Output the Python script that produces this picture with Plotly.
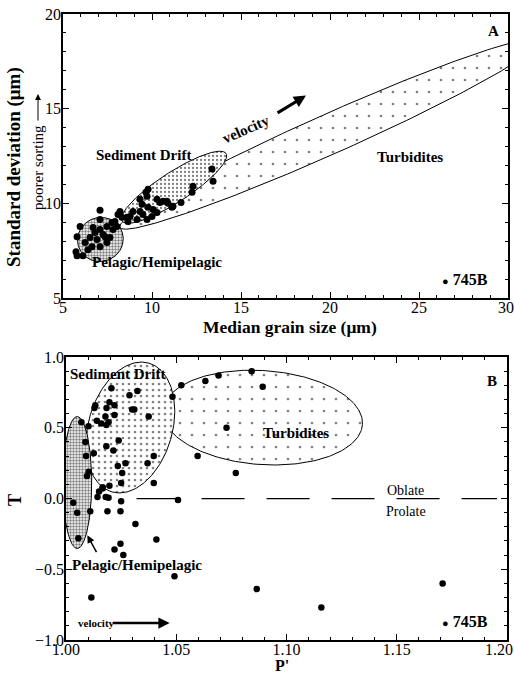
import numpy as np
import plotly.graph_objects as go

# ---------------- data ----------------
# Panel A: median grain size (um) vs standard deviation (um)
grain_size = [13.37, 13.43, 12.30, 12.25, 11.63, 11.12, 9.66, 9.72, 10.28, 10.62,
              10.84, 9.33, 9.44, 9.78, 10.06, 10.28, 10.00, 9.49, 9.33, 8.93,
              9.16, 9.72, 8.76, 8.60, 8.09, 8.31, 8.65, 7.08, 5.96, 5.79,
              5.73, 5.79, 6.12, 6.24, 6.52, 6.80, 7.08, 7.25, 6.91, 6.63,
              7.47, 7.75, 7.92, 7.08, 6.40, 7.47, 7.81, 8.03, 7.08, 9.78,
              10.45, 10.90, 11.18, 7.36, 6.69, 7.64, 8.20]
std_dev = [11.81, 11.17, 10.90, 10.59, 10.05, 9.79, 10.59, 10.37, 10.21, 10.11,
           10.11, 10.21, 9.95, 9.79, 9.68, 9.52, 9.31, 9.41, 9.57, 9.57,
           9.15, 9.15, 9.31, 9.26, 9.41, 9.26, 9.04, 9.63, 8.78, 8.24,
           7.45, 7.23, 7.23, 7.93, 8.19, 8.46, 8.62, 8.35, 8.09, 7.71,
           8.78, 8.99, 9.04, 7.71, 7.55, 7.93, 8.62, 8.78, 9.15, 10.74,
           10.05, 10.00, 9.84, 8.24, 8.72, 8.19, 9.57]

# Panel B: P' vs T
p_prime = [1.0523, 1.0632, 1.0692, 1.0842, 1.0892, 1.0483, 1.0206, 1.0288, 1.0324, 1.0133,
           1.0129, 1.0197, 1.0220, 1.0184, 1.0310, 1.0220, 1.0179, 1.0375, 1.0160, 1.0193,
           1.0183, 1.0102, 1.0070, 1.0728, 1.0088, 1.0239, 1.0183, 1.0215, 1.0126, 1.0398,
           1.0597, 1.0091, 1.0370, 1.0270, 1.0235, 1.0255, 1.0103, 1.0095, 1.0770, 1.0250,
           1.0398, 1.0197, 1.0166, 1.0143, 1.0193, 1.0150, 1.0166, 1.0508, 1.0250, 1.0033,
           1.0051, 1.0110, 1.0188, 1.0247, 1.0315, 1.0056, 1.0410, 1.0247, 1.0220, 1.0260,
           1.0492, 1.0865, 1.1708, 1.0115, 1.1158, 1.0180, 1.0300, 1.0140]
t_shape = [0.80, 0.83, 0.87, 0.90, 0.79, 0.72, 0.78, 0.73, 0.76, 0.66,
           0.64, 0.68, 0.66, 0.64, 0.63, 0.59, 0.58, 0.58, 0.53, 0.54,
           0.52, 0.51, 0.54, 0.50, 0.40, 0.41, 0.37, 0.34, 0.32, 0.30,
           0.30, 0.30, 0.25, 0.25, 0.23, 0.18, 0.19, 0.16, 0.18, 0.11,
           0.11, 0.09, 0.08, 0.01, 0.005, 0.05, 0.07, -0.01, -0.02, -0.03,
           -0.10, -0.09, -0.09, -0.09, -0.18, -0.28, -0.29, -0.32, -0.36, -0.40,
           -0.55, -0.64, -0.60, -0.70, -0.77, 0.01, 0.63, 0.55]

# Tick values and labels
xa_ticks = [5, 10, 15, 20, 25, 30]
xa_labels = ["5", "10", "15", "20", "25", "30"]
ya_ticks = [5, 10, 15, 20]
xb_ticks = [1.0, 1.05, 1.1, 1.15, 1.2]
xb_labels = ["1.00", "1.05", "1.10", "1.15", "1.20"]
yb_ticks = [-1.0, -0.5, 0.0, 0.5, 1.0]

# Field outlines: centre x, centre y, semi-axes (screen px), rotation (deg)
turb_a = (20.0, 13.67, 230, 20, 24)
drift_a = (11.24, 10.85, 62, 15, 33)
pelag_a = (7.1, 8.09, 23, 22, 20)
turb_b = (1.0892, 0.572, 100, 47, -4)
drift_b = (1.0292, 0.502, 67, 42, 74)
pelag_b = (1.0051, 0.113, 66, 14.5, 90)

oblate_line_x = [1.032, 1.1955]
oblate_line_y = [0.0, 0.0]

# ---------------- layout constants ----------------
W, H = 514, 675
ML, MR, MT, MB = 63, 6, 14, 35
PW, PH = W - ML - MR, H - MT - MB
dom_xa = [0.0, 1.0]
dom_ya = [0.5463, 1.0]
dom_xb = [0.0067, 0.9978]
dom_yb = [0.0, 0.452]
rx_a, ry_a = [5, 30], [5, 20]
rx_b, ry_b = [1.0, 1.2], [-1.0, 1.0]

sx_a = PW * (dom_xa[1] - dom_xa[0]) / (rx_a[1] - rx_a[0])
sy_a = PH * (dom_ya[1] - dom_ya[0]) / (ry_a[1] - ry_a[0])
sx_b = PW * (dom_xb[1] - dom_xb[0]) / (rx_b[1] - rx_b[0])
sy_b = PH * (dom_yb[1] - dom_yb[0]) / (ry_b[1] - ry_b[0])


def ellipse(p, sx, sy, n=240):
    cx, cy, a, b, ang = p
    t = np.linspace(0, 2 * np.pi, n)
    th = np.deg2rad(ang)
    u, v = a * np.cos(t), b * np.sin(t)
    dx = u * np.cos(th) - v * np.sin(th)
    dy = u * np.sin(th) + v * np.cos(th)
    return cx + dx / sx, cy + dy / sy


def pad_last(labels, n):
    # keep the last label inside the page, as in the original
    return labels[:-1] + [labels[-1] + "\u00a0" * n]


SERIF = "Liberation Serif"
fig = go.Figure()


def add_field(p, sx, sy, xa, ya, shape, size, sol, fg="black", bg="white"):
    ex, ey = ellipse(p, sx, sy)
    fig.add_trace(go.Scatter(
        x=ex, y=ey, mode="lines", xaxis=xa, yaxis=ya,
        line=dict(color="black", width=1), fill="toself", fillcolor=bg,
        fillpattern=dict(shape=shape, size=size, solidity=sol,
                         fgcolor=fg, bgcolor=bg),
        hoverinfo="skip", showlegend=False))


add_field(turb_a, sx_a, sy_a, "x", "y", ".", 12, 0.04)
add_field(drift_a, sx_a, sy_a, "x", "y", ".", 4, 0.25)
add_field(pelag_a, sx_a, sy_a, "x", "y", ".", 3, 0.5)
add_field(turb_b, sx_b, sy_b, "x2", "y2", ".", 12, 0.04)
add_field(drift_b, sx_b, sy_b, "x2", "y2", ".", 6, 0.15)
add_field(pelag_b, sx_b, sy_b, "x2", "y2", ".", 3, 0.5)

fig.add_trace(go.Scatter(x=grain_size, y=std_dev, mode="markers", xaxis="x", yaxis="y",
                         marker=dict(color="black", size=7), showlegend=False))
fig.add_trace(go.Scatter(x=oblate_line_x, y=oblate_line_y, mode="lines", xaxis="x2", yaxis="y2",
                         line=dict(color="black", width=1.2, dash="43px,22px"), showlegend=False))
fig.add_trace(go.Scatter(x=p_prime, y=t_shape, mode="markers", xaxis="x2", yaxis="y2",
                         marker=dict(color="black", size=6.5), showlegend=False))

axis_common = dict(showline=True, linecolor="black", linewidth=1.5, mirror="allticks",
                   ticks="inside", ticklen=6, tickcolor="black", showgrid=False, zeroline=False,
                   automargin=False, ticklabeloverflow="allow",
                   tickfont=dict(family=SERIF, size=16, color="black"))
minor_common = dict(ticks="inside", ticklen=3, tickcolor="black")

fig.update_layout(
    width=W, height=H, margin=dict(l=ML, r=MR, t=MT, b=MB),
    plot_bgcolor="white", paper_bgcolor="white", showlegend=False,
    xaxis=dict(domain=dom_xa, range=rx_a, anchor="y", tickvals=xa_ticks,
               ticktext=pad_last(xa_labels, 1),
               ticklabelstandoff=-6, minor=dict(dtick=1, **minor_common), **axis_common),
    yaxis=dict(domain=dom_ya, range=ry_a, anchor="x", tickvals=ya_ticks,
               ticklabelstandoff=-3, minor=dict(dtick=1, **minor_common), **axis_common),
    xaxis2=dict(domain=dom_xb, range=rx_b, anchor="y2", tickvals=xb_ticks,
                ticktext=pad_last(xb_labels, 4), ticklabelstandoff=-6,
                minor=dict(dtick=0.01, **minor_common), **axis_common),
    yaxis2=dict(domain=dom_yb, range=ry_b, anchor="x2", tickvals=yb_ticks,
                tickformat=".1f", ticklabelstandoff=-3,
                minor=dict(dtick=0.1, **minor_common), **axis_common),
)


def px2paper(px, py):
    return (px - ML) / PW, 1 - (py - MT) / PH


ann = []


def text(x, y, s, size=14, bold=True, xref="x", yref="y", angle=0, xanchor="center"):
    ann.append(dict(x=x, y=y, xref=xref, yref=yref, text=(f"<b>{s}</b>" if bold else s),
                    showarrow=False, textangle=angle, xanchor=xanchor, yanchor="middle",
                    font=dict(family=SERIF, size=size, color="black")))


def arrow(x0, y0, x1, y1, xref="x", yref="y", width=2.5, head=2, hs=1.0):
    ann.append(dict(x=x1, y=y1, ax=x0, ay=y0, xref=xref, yref=yref, axref=xref, ayref=yref,
                    text="", showarrow=True, arrowhead=head, arrowsize=hs, arrowwidth=width,
                    arrowcolor="black"))


def arrow_px(x1, y1, dx, dy, width=1, head=2, hs=1.0):
    ann.append(dict(x=x1, y=y1, ax=dx, ay=dy, xref="paper", yref="paper", axref="pixel",
                    ayref="pixel", text="", showarrow=True, arrowhead=head, arrowsize=hs,
                    arrowwidth=width, arrowcolor="black"))


# Panel A
text(29.16, 19.1, "A", 15)
text(9.5, 12.55, "Sediment Drift", 15)
text(24.5, 12.45, "Turbidites", 15)
text(10.28, 6.91, "Pelagic/Hemipelagic", 15)
text(15.3, 13.94, "velocity", 15, angle=-24)
arrow(16.97, 14.73, 18.65, 15.69, width=3, hs=0.8)
px, py = px2paper(440, 279)
text(px, py, "<span style='font-size:11px'>●</span> 745B", 16, xref="paper", yref="paper", xanchor="left")
px, py = px2paper(290, 327)
text(px, py, "Median grain size (μm)", 17.5, xref="paper", yref="paper")
px, py = px2paper(14, 167)
text(px, py, "Standard deviation (μm)", 19, xref="paper", yref="paper", angle=-90)
px, py = px2paper(38, 168)
text(px, py, "poorer sorting", 15, bold=False, xref="paper", yref="paper", angle=-90)
x1p, y1p = px2paper(38, 94)
arrow_px(x1p, y1p, 0, 28, width=1, head=2, hs=1.2)

# Panel B
text(1.0233, 0.883, "Sediment Drift", 15, xref="x2", yref="y2")
text(1.1962, 0.83, "B", 15, xref="x2", yref="y2", xanchor="right")
text(1.1042, 0.46, "Turbidites", 15, xref="x2", yref="y2")
text(1.154, 0.06, "Oblate", 14, bold=False, xref="x2", yref="y2")
text(1.154, -0.09, "Prolate", 14, bold=False, xref="x2", yref="y2")
text(1.032, -0.47, "Pelagic/Hemipelagic", 15, xref="x2", yref="y2")
arrow(1.0142, -0.39, 1.0097, -0.26, xref="x2", yref="y2", width=1.5, hs=1.0)
text(1.0138, -0.88, "velocity", 11, xref="x2", yref="y2")
arrow(1.0206, -0.88, 1.047, -0.88, xref="x2", yref="y2", width=2.5, hs=0.9)
px, py = px2paper(440, 621)
text(px, py, "<span style='font-size:11px'>●</span> 745B", 16, xref="paper", yref="paper", xanchor="left")
px, py = px2paper(15, 500)
text(px, py, "T", 18, xref="paper", yref="paper", angle=-90)
px, py = px2paper(282, 665)
text(px, py, "P'", 16, xref="paper", yref="paper")

fig.update_layout(annotations=ann)
fig.write_html("out.html")
